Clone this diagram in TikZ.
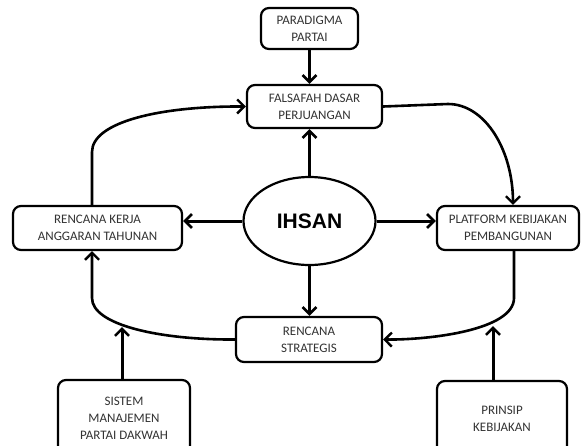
\documentclass[tikz,border=0pt]{standalone}
\usepackage{fontspec}
\setmainfont{Carlito}
\newfontfamily\headfont{Liberation Sans}
\usetikzlibrary{arrows.meta,shapes.geometric}
\definecolor{txt}{HTML}{333333}
\begin{document}
\begin{tikzpicture}[x=1pt,y=-1pt,
  box/.style={draw,line width=2.2pt,rounded corners=8pt,align=center,text=txt,
    font=\fontsize{13}{17}\selectfont,inner sep=0pt},
  link/.style={line width=3pt,-{Straight Barb[length=7pt,width=14pt,line width=2.6pt]}},
  flow/.style={line width=2.6pt,-{Straight Barb[length=7pt,width=14pt,line width=2.4pt]}}]
\clip (0,0) rectangle (586,445);
\fill[white] (0,0) rectangle (586,445);

% boxes
\node[box,minimum width=97pt,minimum height=41pt] (para) at (309.5,28.5) {PARADIGMA\\PARTAI};
\node[box,minimum width=135pt,minimum height=43pt] (fd) at (314.5,106.5) {FALSAFAH DASAR\\PERJUANGAN};
\node[draw,ellipse,line width=2.2pt,minimum width=132pt,minimum height=88pt,inner sep=0pt,
  font=\headfont\bfseries\fontsize{21}{21}\selectfont] (ihsan) at (309.5,221) {IHSAN};
\node[box,minimum width=169pt,minimum height=44pt] (rk) at (97.5,228) {RENCANA KERJA\\ANGGARAN TAHUNAN};
\node[box,minimum width=142pt,minimum height=44pt] (pk) at (508,228) {PLATFORM KEBIJAKAN\\PEMBANGUNAN};
\node[box,minimum width=146pt,minimum height=45pt] (rs) at (309,339.5) {RENCANA\\STRATEGIS};
\node[box,minimum width=132pt,minimum height=76pt] (smpd) at (124,418) {SISTEM\\MANAJEMEN\\PARTAI DAKWAH};
\node[box,minimum width=130pt,minimum height=76pt] (pkb) at (502,419) {PRINSIP\\KEBIJAKAN};

% straight arrows
\draw[link] (para.south) -- (para.south |- fd.north);
\draw[link] (ihsan.north) -- (ihsan.north |- fd.south);
\draw[link] (ihsan.south) -- (ihsan.south |- rs.north);
\draw[link] (ihsan.west) -- (ihsan.west -| rk.east);
\draw[link] (ihsan.east) -- (ihsan.east -| pk.west);

% cycle around the centre
\draw[flow] (rk.north -| 92,0) -- (92,152) .. controls (92,122) and (160,106) .. (fd.west);
\draw[flow] (fd.east) -- (448,104) .. controls (485,104) and (513,150) .. (pk.north -| 513,0);
\draw[flow] (pk.south -| 514,0) -- (514,298) .. controls (514,330) and (430,340) .. (rs.east);
\draw[flow] (rs.west) .. controls (160,340) and (92,325) .. (92,298) -- (rk.south -| 92,0);

% feeds into the cycle
\coordinate (c1) at (122,327);
\coordinate (c2) at (493,326);
\draw[link] (smpd.north -| c1) -- (c1);
\draw[link] (pkb.north -| c2) -- (c2);
\end{tikzpicture}
\end{document}
